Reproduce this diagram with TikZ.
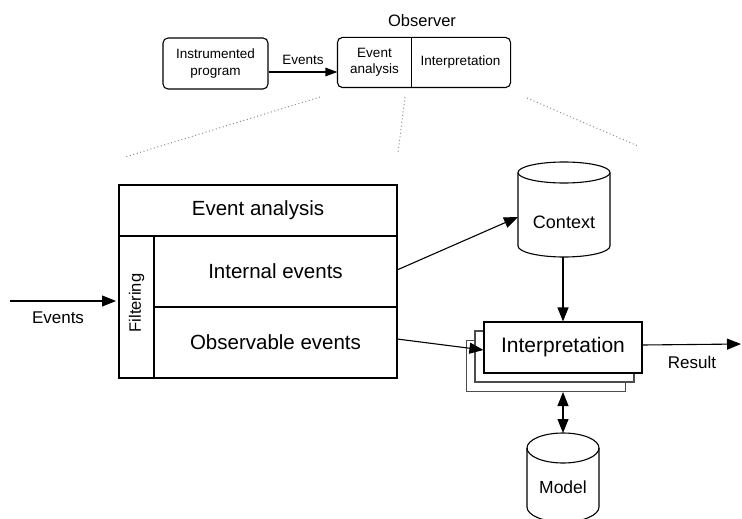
\documentclass[tikz,border=0pt]{standalone}
\usepackage{fontspec}
\setmainfont{Liberation Sans}
\usetikzlibrary{arrows.meta}
\begin{document}
\begin{tikzpicture}[x=1pt, y=-1pt,
  line width=1.1pt,
  cell/.style={draw, inner sep=0pt, outer sep=0pt},
  arr/.style={-{Triangle[length=14pt,width=11pt]}},
  arrsmall/.style={-{Triangle[length=12pt,width=8.5pt]}},
  dbl/.style={{Triangle[length=14pt,width=11pt]}-{Triangle[length=14pt,width=11pt]}},
  dots/.style={draw=black!45, line width=1pt, dash pattern=on 1pt off 2.6pt},
  fbig/.style={font=\fontsize{20.5}{23}\selectfont},
  fmid/.style={font=\fontsize{17}{19}\selectfont},
  fsmall/.style={font=\fontsize{13.5}{16.5}\selectfont},
  stack/.style={draw=black!70, fill=white, minimum width=159pt, minimum height=51pt, inner sep=0pt}
]
\useasboundingbox (0,0) rectangle (742,519);

% ---------- overview: program and observer ----------
\node[draw, rounded corners=5pt, minimum width=105pt, minimum height=51pt,
      align=center, fsmall, inner sep=0pt] (prog) at (215.5,63.5) {Instrumented\\program};
\node[minimum width=73pt, minimum height=49pt, inner sep=0pt, align=center, fsmall]
      (obsA) at (374.5,62.5) {Event\\analysis};
\node[minimum width=99pt, minimum height=49pt, inner sep=0pt, fsmall]
      (obsB) at (460.5,62.5) {Interpretation};
\draw[rounded corners=5pt] (obsA.north west) rectangle (obsB.south east);
\draw (obsA.north east) -- (obsA.south east);
\node[font=\fontsize{16.5}{19}\selectfont] (obstitle) at (422,21) {Observer};
\draw[arrsmall] ([yshift=-8.5pt]prog.east) -- ([yshift=-9.5pt]obsA.west)
  node[midway, above=3pt, fsmall] (evtop) {Events};

% zoom guides
\coordinate (zl1) at (320,97);  \coordinate (zl2) at (125,157);
\coordinate (zm1) at (405,97);  \coordinate (zm2) at (398,153);
\coordinate (zr1) at (527,98);  \coordinate (zr2) at (638,146);
\draw[dots] (zl1) -- (zl2);
\draw[dots] (zm1) -- (zm2);
\draw[dots] (zr1) -- (zr2);

% ---------- event analysis block ----------
\node[cell, minimum width=278pt, minimum height=51pt, fbig] (ea) at (258,210.5) {Event analysis};
\node[cell, minimum width=35pt, minimum height=142pt] (filt) at (136.5,307) {};
\node[rotate=90, font=\fontsize{16.5}{19}\selectfont] (filttext) at (136.5,303) {Filtering};
\node[cell, minimum width=243pt, minimum height=71pt, fbig] (ie) at (275.5,271.5) {Internal events};
\node[cell, minimum width=243pt, minimum height=71pt, fbig] (oe) at (275.5,342.5) {Observable events};

\coordinate (evin) at (10,301);
\draw[arr, shorten >=3pt] (evin) -- (evin -| filt.west);
\node[fmid] (evlbl) at (58,318) {Events};

% ---------- context store ----------
\draw (564,172.5) ellipse [x radius=46pt, y radius=10.5pt];
\draw (518,172.5) -- (518,246) arc[start angle=180, end angle=360, x radius=46pt, y radius=11pt] -- (610,172.5);
\node[font=\fontsize{18}{20}\selectfont] (ctx) at (564,222) {Context};
\coordinate (ctxL) at (518,217);
\coordinate (ctxB) at (563,257);

% ---------- interpretation stack ----------
\node[stack] (int3) at (546,366) {};
\node[stack] (int2) at (554.5,356.5) {};
\node[draw, fill=white, minimum width=158pt, minimum height=51pt, inner sep=0pt,
      font=\fontsize{21}{23}\selectfont] (int) at (563,347.5) {Interpretation};

% ---------- model store ----------
\draw (563,448) ellipse [x radius=36pt, y radius=15pt];
\draw (527,448) -- (527,507) arc[start angle=180, end angle=360, x radius=36pt, y radius=15pt] -- (599,448);
\node[font=\fontsize{17.5}{20}\selectfont] (mdl) at (563,487) {Model};
\coordinate (mdlT) at (563,433);

% ---------- connectors ----------
\draw[arr] ([yshift=1.5pt]ie.east) -- (ctxL);
\draw[arr] (ctxB) -- (int.north);
\draw[arr] ([yshift=3.5pt]oe.east) -- ([yshift=-2.5pt]int.west);
\coordinate (res) at (741,344);
\draw[arr] ([yshift=2.5pt]int.east) -- (res);
\node[fmid] (reslbl) at (692,362) {Result};
\draw[dbl] (int.south |- int3.south) -- (mdlT);
\end{tikzpicture}
\end{document}
